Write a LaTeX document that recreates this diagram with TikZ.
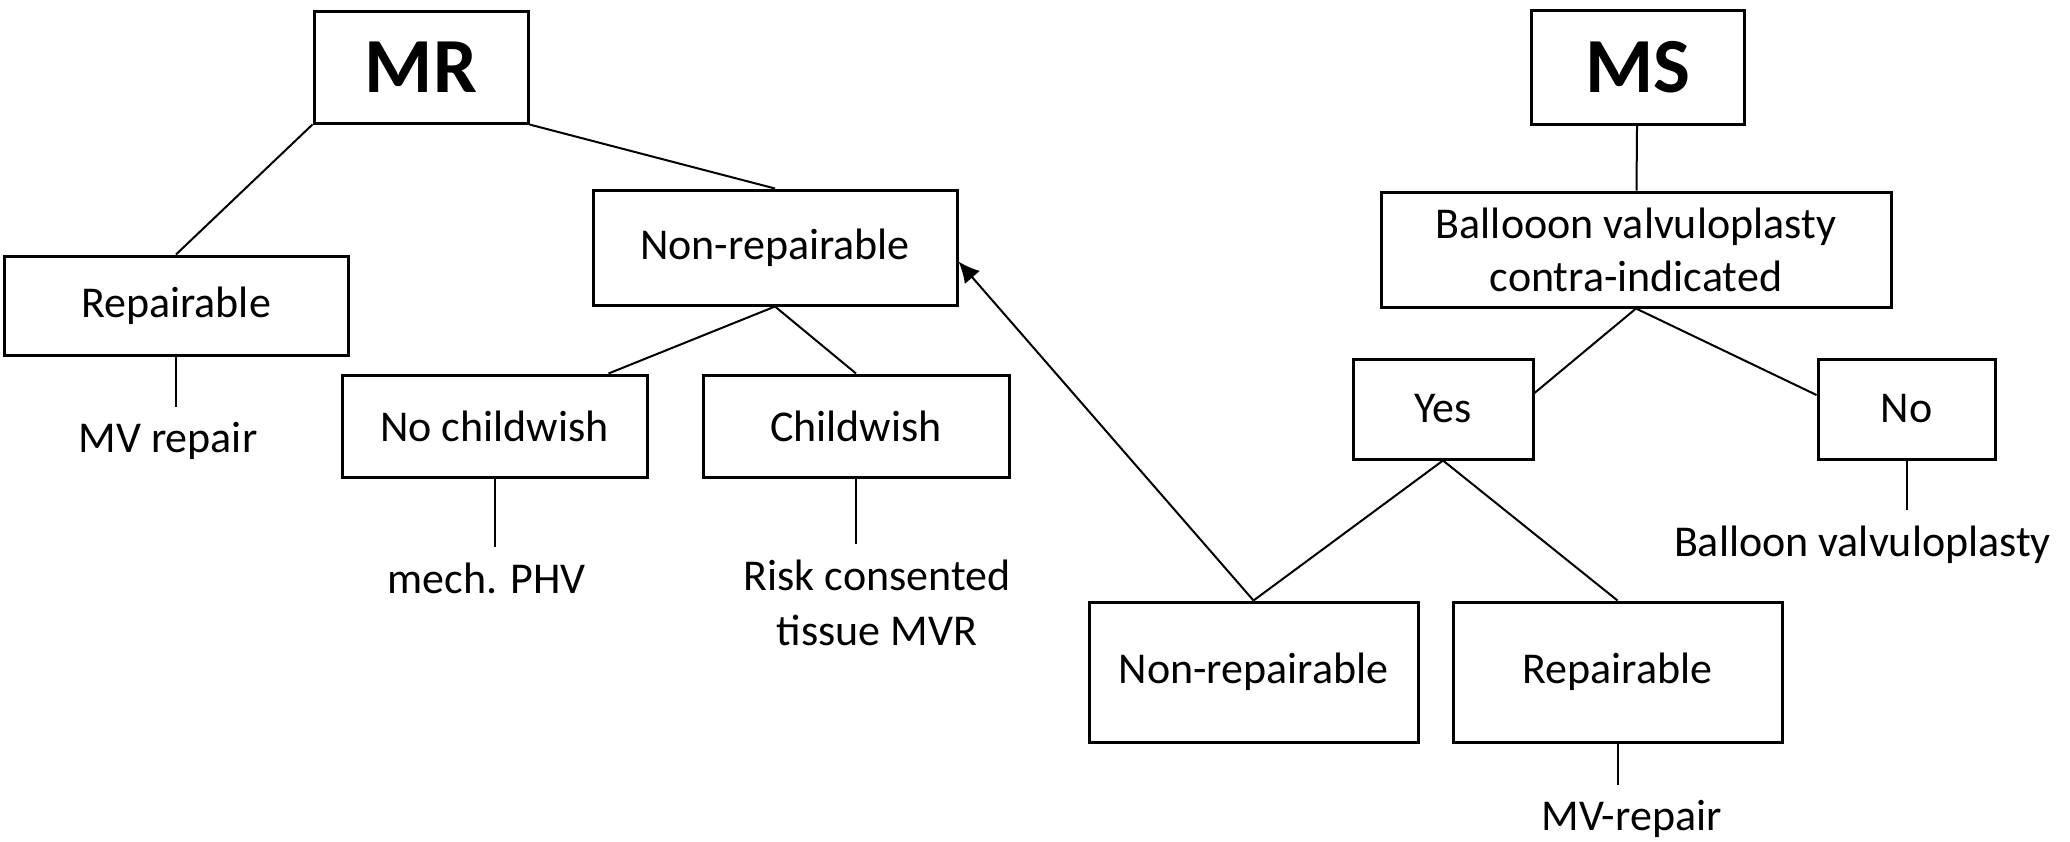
\documentclass[tikz,border=0pt]{standalone}
\usepackage{fontspec}
\setmainfont{Carlito}
\usetikzlibrary{arrows.meta,positioning}

\begin{document}
\begin{tikzpicture}[
    x=0.5pt, y=-0.5pt,
    line width=1pt,
    box/.style={rectangle, draw, line width=1.5pt, inner sep=0pt, align=center, font=\fontsize{22pt}{26.5pt}\selectfont},
    title/.style={box, font=\fontsize{39pt}{44pt}\selectfont\bfseries},
    leaf/.style={align=center, inner xsep=0pt, inner ysep=7.5pt, font=\fontsize{22pt}{27.5pt}\selectfont},
    arrow/.style={-{Latex[length=10.5pt,width=10pt]}}
]
    \useasboundingbox (0,0) rectangle (2070,841);

    % mitral regurgitation
    \node [title, minimum width=107pt, minimum height=56pt] (mr) at (421,67) {MR};
    \node [box, minimum width=172pt, minimum height=49.5pt] (repL) at (176,305.5) {Repairable};
    \node [box, minimum width=182pt, minimum height=57.5pt] (nonrepA) at (775,247.5) {Non-repairable};
    \node [box, minimum width=152.5pt, minimum height=51pt] (nochild) at (494.5,426) {No childwish};
    \node [box, minimum width=153pt, minimum height=51pt] (child) at (856,426) {Childwish};
    \node [leaf, below=25pt of repL, xshift=-4pt] (mvrep) {MV repair};
    \node [leaf, below=34pt of nochild, xshift=-4pt] (phv) {mech. PHV};
    \node [leaf, below=32.5pt of child, xshift=10.5pt] (mvr) {Risk consented\\tissue MVR};

    % mitral stenosis
    \node [title, minimum width=106.5pt, minimum height=57pt] (ms) at (1637.5,67) {MS};
    \node [box, minimum width=255pt, minimum height=57.5pt] (balloon) at (1636,249.5) {Ballooon valvuloplasty\\contra-indicated};
    \node [box, minimum width=90pt, minimum height=50pt] (yes) at (1443,409) {Yes};
    \node [box, minimum width=88.5pt, minimum height=50pt] (no) at (1906.5,409) {No};
    \node [box, minimum width=164.5pt, minimum height=70pt] (nonrepB) at (1253.5,672) {Non-repairable};
    \node [box, minimum width=164.5pt, minimum height=70pt] (repB) at (1617.5,672) {Repairable};
    \node [leaf, below=24.5pt of no, xshift=-22pt] (bvp) {Balloon valvuloplasty};
    \node [leaf, below=20.5pt of repB, xshift=7pt] (mvrep2) {MV-repair};

    \draw (mr.south west) -- (repL.north);
    \draw (mr.south east) -- (nonrepA.north);
    \draw (nonrepA.south) -- ([xshift=-20pt]nochild.north east);
    \draw (nonrepA.south) -- (child.north);
    \draw (repL) -- (repL |- mvrep.north);
    \draw (nochild) -- (nochild |- phv.north);
    \draw (child) -- (child |- mvr.north);

    \draw (ms) -- (balloon);
    \draw (balloon.south) -- ([yshift=8pt]yes.east);
    \draw (balloon.south) -- ([yshift=7pt]no.west);
    \draw (no) -- (no |- bvp.north);
    \draw (yes.south) -- (nonrepB.north);
    \draw (yes.south) -- (repB.north);
    \draw (repB) -- (repB |- mvrep2.north);
    \draw [arrow] (nonrepB.north) -- ([yshift=-7pt]nonrepA.east);
\end{tikzpicture}
\end{document}
